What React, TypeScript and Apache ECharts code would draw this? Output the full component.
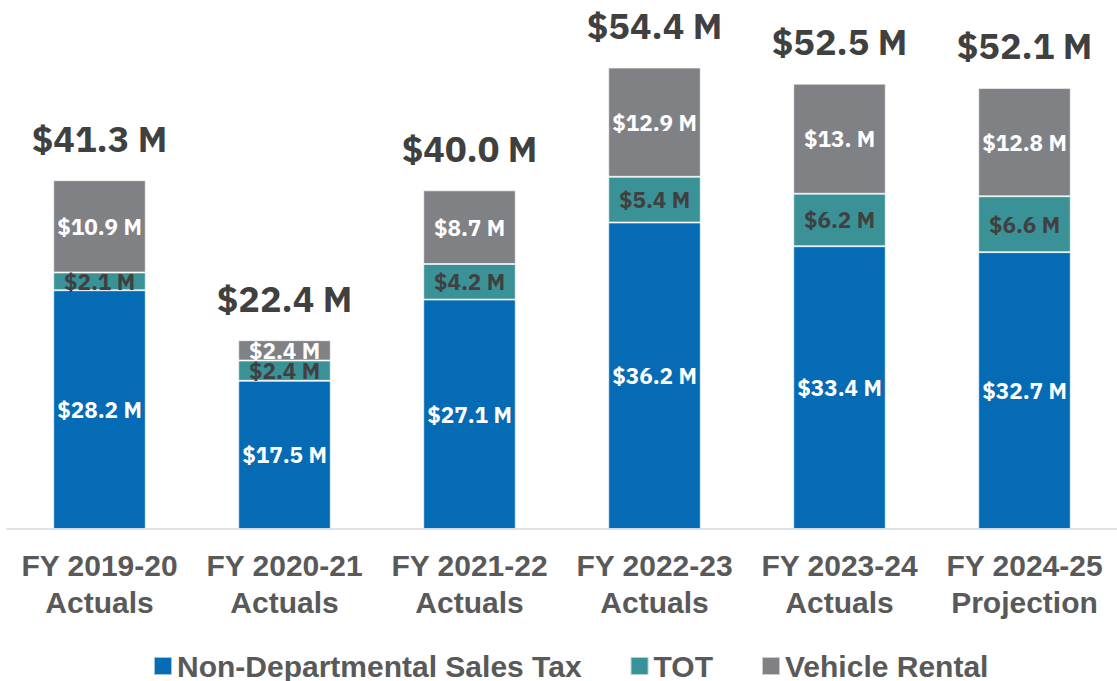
import React, { useEffect, useRef } from "react";
import * as echarts from "echarts";

const categories = [
  "FY 2019-20\nActuals",
  "FY 2020-21\nActuals",
  "FY 2021-22\nActuals",
  "FY 2022-23\nActuals",
  "FY 2023-24\nActuals",
  "FY 2024-25\nProjection",
];
const salesTax = [28.2, 17.5, 27.1, 36.2, 33.4, 32.7];
const tot = [2.1, 2.4, 4.2, 5.4, 6.2, 6.6];
const vehicleRental = [10.9, 2.4, 8.7, 12.9, 13.0, 12.8];
const vehicleLabels = ["$10.9 M", "$2.4 M", "$8.7 M", "$12.9 M", "$13. M", "$12.8 M"];
const totals = ["$41.3 M", "$22.4 M", "$40.0 M", "$54.4 M", "$52.5 M", "$52.1 M"];

const BLUE = "#066BB5";
const TEAL = "#3A9297";
const GREY = "#808185";
const DARK = "#404040";
const LABEL_FONT = "'IBM Plex Sans', 'Noto Sans', Roboto, sans-serif";
const AXIS_FONT = "'Liberation Sans', Arial, sans-serif";

export default function App() {
  const ref = useRef<HTMLDivElement>(null);
  useEffect(() => {
    if (!ref.current) return;
    const chart = echarts.init(ref.current, undefined, { renderer: "svg" });
    const segLabel = (color: string) => ({
      show: true,
      position: "inside" as const,
      color,
      fontFamily: LABEL_FONT,
      fontWeight: "bold" as const,
      fontSize: 22.5,
      lineHeight: 20,
    });
    const itemBorder = { borderColor: "rgba(255,255,255,0.6)", borderWidth: 1 };
    chart.setOption({
      animation: false,
      grid: { left: 7, right: -1, top: 21, bottom: 152, containLabel: false },
      legend: {
        data: ["Non-Departmental Sales Tax", "TOT", "Vehicle Rental"],
        bottom: -5,
        left: 148,
        icon: "rect",
        itemWidth: 18,
        itemHeight: 18,
        itemGap: 48,
        textStyle: {
          color: "#595959",
          fontFamily: AXIS_FONT,
          fontWeight: "bold",
          fontSize: 30,
        },
      },
      xAxis: {
        type: "category",
        data: categories,
        axisLine: { show: true, lineStyle: { color: "#D9D9D9", width: 1.5 } },
        axisTick: { show: false },
        axisLabel: {
          color: "#595959",
          fontFamily: AXIS_FONT,
          fontWeight: "bold",
          fontSize: 30,
          lineHeight: 37,
          margin: 18,
          interval: 0,
        },
      },
      yAxis: {
        type: "value",
        min: 0,
        max: 60,
        show: false,
        splitLine: { show: false },
      },
      series: [
        {
          name: "Non-Departmental Sales Tax",
          type: "bar",
          stack: "total",
          barWidth: "50%",
          data: salesTax,
          itemStyle: { color: BLUE, ...itemBorder },
          label: { ...segLabel("#FFFFFF"), formatter: (p: any) => `$${p.value.toFixed(1)} M` },
        },
        {
          name: "TOT",
          type: "bar",
          stack: "total",
          data: tot,
          itemStyle: { color: TEAL, ...itemBorder },
          label: { ...segLabel(DARK), formatter: (p: any) => `$${p.value.toFixed(1)} M` },
        },
        {
          name: "Vehicle Rental",
          type: "bar",
          stack: "total",
          data: vehicleRental,
          itemStyle: { color: GREY, ...itemBorder },
          label: { ...segLabel("#FFFFFF"), formatter: (p: any) => vehicleLabels[p.dataIndex] },
        },
        {
          name: "Total",
          type: "bar",
          stack: "total",
          data: categories.map(() => 0),
          itemStyle: { color: "transparent" },
          label: {
            show: true,
            position: "top",
            distance: 24,
            color: DARK,
            fontFamily: LABEL_FONT,
            fontWeight: "bold",
            fontSize: 36,
            formatter: (p: any) => totals[p.dataIndex],
          },
        },
      ],
    });
    return () => chart.dispose();
  }, []);
  return (
    <div
      ref={ref}
      style={{ position: "fixed", left: 0, top: 0, width: 1117, height: 681, background: "#fff" }}
    />
  );
}
